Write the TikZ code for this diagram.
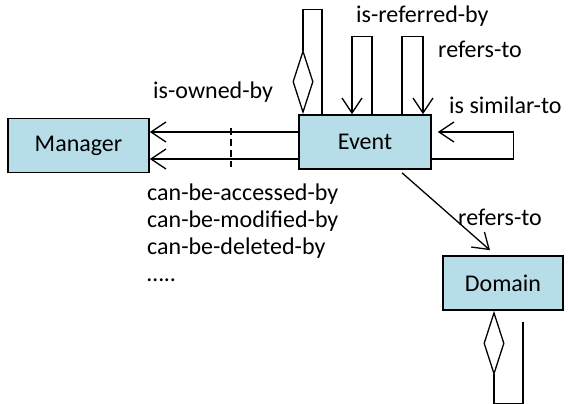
\documentclass[tikz,border=0pt]{standalone}
\usepackage{fontspec}
\setmainfont{Carlito}
\usetikzlibrary{arrows.meta,positioning}
\definecolor{boxblue}{RGB}{183,221,232}

\begin{document}
\begin{tikzpicture}[x=1pt,y=-1pt,font=\fontsize{24}{27}\selectfont,
box/.style={draw,line width=1.6pt,fill=boxblue,minimum height=54pt,inner sep=0pt},
rel/.style={line width=1.3pt},
arr/.style={rel,-{Straight Barb[length=15pt,width=20pt]}},
agg/.style={rel,{Diamond[open,length=65pt,width=21pt]}-},
lbl/.style={anchor=west,inner sep=0pt}]
\useasboundingbox (0,0) rectangle (568,404);
\node[box,minimum width=141pt] (manager) at (78.5,145.5) {Manager};
\node[box,minimum width=132pt] (event) at (365,142) {Event};
\node[box,minimum width=120pt] (domain) at (503,283) {Domain};
\coordinate (own1) at ([yshift=10pt]event.west);
\coordinate (own2) at ([yshift=-17pt]event.west);
\draw[arr] (own1) -- (manager.east |- own1);
\draw[arr] (own2) -- (manager.east |- own2);
\coordinate (cut) at (231,128);
\draw[rel,dash pattern=on 7pt off 4pt] (cut) -- ++(0,39);
\draw[agg] ([xshift=-62pt]event.north) -- ++(0,-105) -| ([xshift=-43pt]event.north);
\draw[arr] ([xshift=7pt]event.north) -- ++(0,-78) -| ([xshift=-13pt]event.north);
\draw[arr] ([xshift=37pt]event.north) -- ++(0,-78) -| ([xshift=58pt]event.north);
\draw[arr] ([yshift=-17pt]event.east) -- ++(82,0) |- ([xshift=6pt,yshift=10pt]event.east);
\draw[arr] ([xshift=37pt,yshift=-3pt]event.south) -- ([xshift=-13pt,yshift=5pt]domain.north);
\coordinate (back) at (523,322);
\draw[agg] ([xshift=-9pt]domain.south) -- ++(0,92.5) -| (back);
\node[lbl] (referred) at (356,16) {is-referred-by};
\node[lbl] (refers) at (438,49) {refers-to};
\node[lbl] (similar) at (449,105) {is similar-to};
\node[lbl] (owned) at (153,92) {is-owned-by};
\node[lbl] (refersdom) at (458,217) {refers-to};
\node[lbl,anchor=base west] (access) at (147,200) {can-be-accessed-by};
\node[lbl,anchor=base west] (modify) at (147,227) {can-be-modified-by};
\node[lbl,anchor=base west] (delete) at (147,254) {can-be-deleted-by};
\node[lbl,anchor=base west] (more) at (147,281) {…..};
\end{tikzpicture}
\end{document}
